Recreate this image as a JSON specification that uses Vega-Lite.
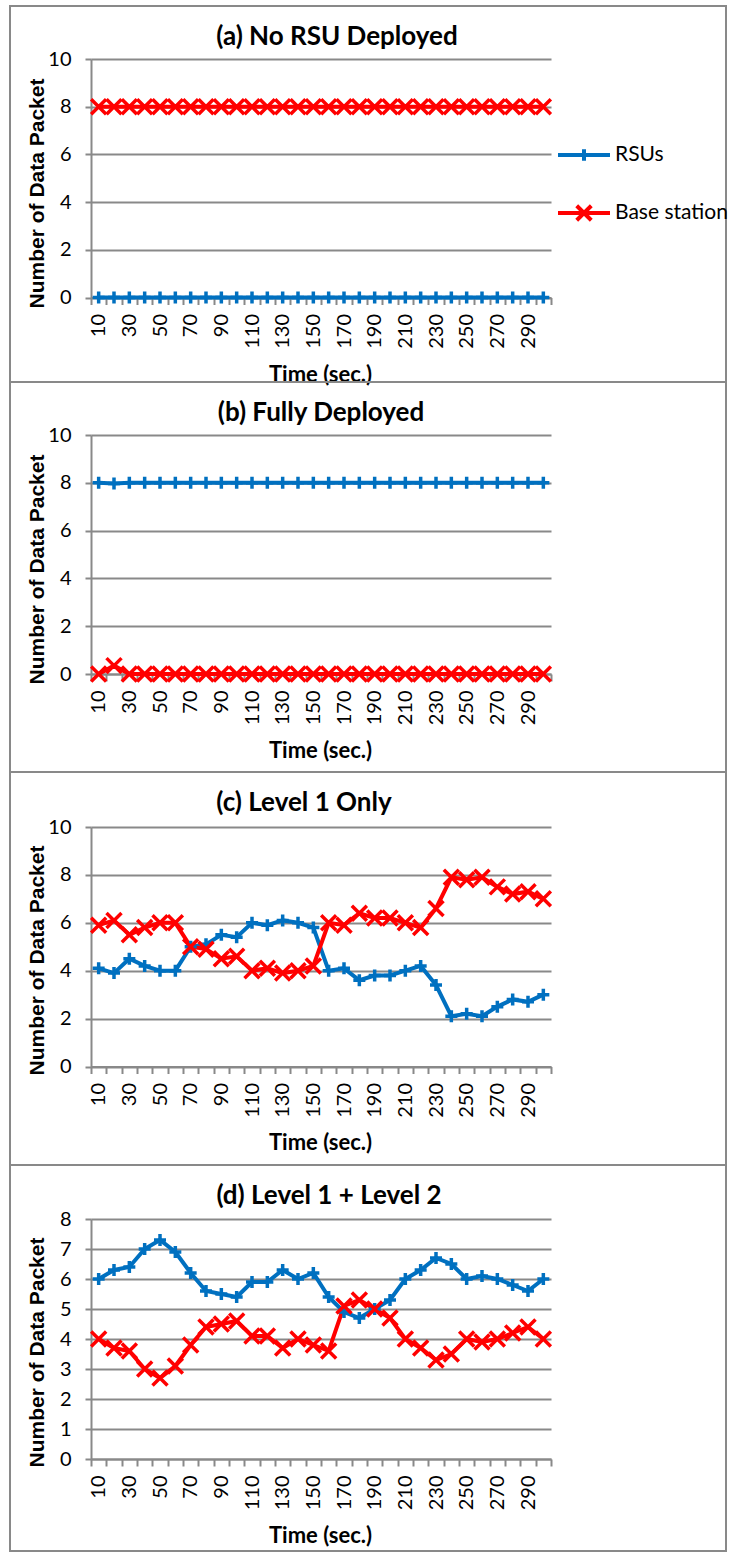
{
  "$schema": "https://vega.github.io/schema/vega-lite/v6.json",
  "padding": {"left": 9, "top": 5, "right": 0, "bottom": 0},
  "background": "white",
  "datasets": {
    "pa": [
      {"time":10,"series":"RSUs","value":0},{"time":20,"series":"RSUs","value":0},{"time":30,"series":"RSUs","value":0},{"time":40,"series":"RSUs","value":0},{"time":50,"series":"RSUs","value":0},{"time":60,"series":"RSUs","value":0},{"time":70,"series":"RSUs","value":0},{"time":80,"series":"RSUs","value":0},{"time":90,"series":"RSUs","value":0},{"time":100,"series":"RSUs","value":0},
      {"time":110,"series":"RSUs","value":0},{"time":120,"series":"RSUs","value":0},{"time":130,"series":"RSUs","value":0},{"time":140,"series":"RSUs","value":0},{"time":150,"series":"RSUs","value":0},{"time":160,"series":"RSUs","value":0},{"time":170,"series":"RSUs","value":0},{"time":180,"series":"RSUs","value":0},{"time":190,"series":"RSUs","value":0},{"time":200,"series":"RSUs","value":0},
      {"time":210,"series":"RSUs","value":0},{"time":220,"series":"RSUs","value":0},{"time":230,"series":"RSUs","value":0},{"time":240,"series":"RSUs","value":0},{"time":250,"series":"RSUs","value":0},{"time":260,"series":"RSUs","value":0},{"time":270,"series":"RSUs","value":0},{"time":280,"series":"RSUs","value":0},{"time":290,"series":"RSUs","value":0},{"time":300,"series":"RSUs","value":0},
      {"time":10,"series":"Base station","value":8},{"time":20,"series":"Base station","value":8},{"time":30,"series":"Base station","value":8},{"time":40,"series":"Base station","value":8},{"time":50,"series":"Base station","value":8},{"time":60,"series":"Base station","value":8},{"time":70,"series":"Base station","value":8},{"time":80,"series":"Base station","value":8},{"time":90,"series":"Base station","value":8},{"time":100,"series":"Base station","value":8},
      {"time":110,"series":"Base station","value":8},{"time":120,"series":"Base station","value":8},{"time":130,"series":"Base station","value":8},{"time":140,"series":"Base station","value":8},{"time":150,"series":"Base station","value":8},{"time":160,"series":"Base station","value":8},{"time":170,"series":"Base station","value":8},{"time":180,"series":"Base station","value":8},{"time":190,"series":"Base station","value":8},{"time":200,"series":"Base station","value":8},
      {"time":210,"series":"Base station","value":8},{"time":220,"series":"Base station","value":8},{"time":230,"series":"Base station","value":8},{"time":240,"series":"Base station","value":8},{"time":250,"series":"Base station","value":8},{"time":260,"series":"Base station","value":8},{"time":270,"series":"Base station","value":8},{"time":280,"series":"Base station","value":8},{"time":290,"series":"Base station","value":8},{"time":300,"series":"Base station","value":8}
    ],
    "pb": [
      {"time":10,"series":"RSUs","value":8},{"time":20,"series":"RSUs","value":7.97},{"time":30,"series":"RSUs","value":8},{"time":40,"series":"RSUs","value":8},{"time":50,"series":"RSUs","value":8},{"time":60,"series":"RSUs","value":8},{"time":70,"series":"RSUs","value":8},{"time":80,"series":"RSUs","value":8},{"time":90,"series":"RSUs","value":8},{"time":100,"series":"RSUs","value":8},
      {"time":110,"series":"RSUs","value":8},{"time":120,"series":"RSUs","value":8},{"time":130,"series":"RSUs","value":8},{"time":140,"series":"RSUs","value":8},{"time":150,"series":"RSUs","value":8},{"time":160,"series":"RSUs","value":8},{"time":170,"series":"RSUs","value":8},{"time":180,"series":"RSUs","value":8},{"time":190,"series":"RSUs","value":8},{"time":200,"series":"RSUs","value":8},
      {"time":210,"series":"RSUs","value":8},{"time":220,"series":"RSUs","value":8},{"time":230,"series":"RSUs","value":8},{"time":240,"series":"RSUs","value":8},{"time":250,"series":"RSUs","value":8},{"time":260,"series":"RSUs","value":8},{"time":270,"series":"RSUs","value":8},{"time":280,"series":"RSUs","value":8},{"time":290,"series":"RSUs","value":8},{"time":300,"series":"RSUs","value":8},
      {"time":10,"series":"Base station","value":0},{"time":20,"series":"Base station","value":0.35},{"time":30,"series":"Base station","value":0},{"time":40,"series":"Base station","value":0},{"time":50,"series":"Base station","value":0},{"time":60,"series":"Base station","value":0},{"time":70,"series":"Base station","value":0},{"time":80,"series":"Base station","value":0},{"time":90,"series":"Base station","value":0},{"time":100,"series":"Base station","value":0},
      {"time":110,"series":"Base station","value":0},{"time":120,"series":"Base station","value":0},{"time":130,"series":"Base station","value":0},{"time":140,"series":"Base station","value":0},{"time":150,"series":"Base station","value":0},{"time":160,"series":"Base station","value":0},{"time":170,"series":"Base station","value":0},{"time":180,"series":"Base station","value":0},{"time":190,"series":"Base station","value":0},{"time":200,"series":"Base station","value":0},
      {"time":210,"series":"Base station","value":0},{"time":220,"series":"Base station","value":0},{"time":230,"series":"Base station","value":0},{"time":240,"series":"Base station","value":0},{"time":250,"series":"Base station","value":0},{"time":260,"series":"Base station","value":0},{"time":270,"series":"Base station","value":0},{"time":280,"series":"Base station","value":0},{"time":290,"series":"Base station","value":0},{"time":300,"series":"Base station","value":0}
    ],
    "pc": [
      {"time":10,"series":"RSUs","value":4.1},{"time":20,"series":"RSUs","value":3.9},{"time":30,"series":"RSUs","value":4.5},{"time":40,"series":"RSUs","value":4.2},{"time":50,"series":"RSUs","value":4.0},{"time":60,"series":"RSUs","value":4.0},{"time":70,"series":"RSUs","value":5.0},{"time":80,"series":"RSUs","value":5.1},{"time":90,"series":"RSUs","value":5.5},{"time":100,"series":"RSUs","value":5.4},
      {"time":110,"series":"RSUs","value":6.0},{"time":120,"series":"RSUs","value":5.9},{"time":130,"series":"RSUs","value":6.1},{"time":140,"series":"RSUs","value":6.0},{"time":150,"series":"RSUs","value":5.8},{"time":160,"series":"RSUs","value":4.0},{"time":170,"series":"RSUs","value":4.1},{"time":180,"series":"RSUs","value":3.6},{"time":190,"series":"RSUs","value":3.8},{"time":200,"series":"RSUs","value":3.8},
      {"time":210,"series":"RSUs","value":4.0},{"time":220,"series":"RSUs","value":4.2},{"time":230,"series":"RSUs","value":3.4},{"time":240,"series":"RSUs","value":2.1},{"time":250,"series":"RSUs","value":2.2},{"time":260,"series":"RSUs","value":2.1},{"time":270,"series":"RSUs","value":2.5},{"time":280,"series":"RSUs","value":2.8},{"time":290,"series":"RSUs","value":2.7},{"time":300,"series":"RSUs","value":3.0},
      {"time":10,"series":"Base station","value":5.9},{"time":20,"series":"Base station","value":6.1},{"time":30,"series":"Base station","value":5.5},{"time":40,"series":"Base station","value":5.8},{"time":50,"series":"Base station","value":6.0},{"time":60,"series":"Base station","value":6.0},{"time":70,"series":"Base station","value":5.0},{"time":80,"series":"Base station","value":4.9},{"time":90,"series":"Base station","value":4.5},{"time":100,"series":"Base station","value":4.6},
      {"time":110,"series":"Base station","value":4.0},{"time":120,"series":"Base station","value":4.1},{"time":130,"series":"Base station","value":3.9},{"time":140,"series":"Base station","value":4.0},{"time":150,"series":"Base station","value":4.2},{"time":160,"series":"Base station","value":6.0},{"time":170,"series":"Base station","value":5.9},{"time":180,"series":"Base station","value":6.4},{"time":190,"series":"Base station","value":6.2},{"time":200,"series":"Base station","value":6.2},
      {"time":210,"series":"Base station","value":6.0},{"time":220,"series":"Base station","value":5.8},{"time":230,"series":"Base station","value":6.6},{"time":240,"series":"Base station","value":7.9},{"time":250,"series":"Base station","value":7.8},{"time":260,"series":"Base station","value":7.9},{"time":270,"series":"Base station","value":7.5},{"time":280,"series":"Base station","value":7.2},{"time":290,"series":"Base station","value":7.3},{"time":300,"series":"Base station","value":7.0}
    ],
    "pd": [
      {"time":10,"series":"RSUs","value":6.0},{"time":20,"series":"RSUs","value":6.3},{"time":30,"series":"RSUs","value":6.4},{"time":40,"series":"RSUs","value":7.0},{"time":50,"series":"RSUs","value":7.3},{"time":60,"series":"RSUs","value":6.9},{"time":70,"series":"RSUs","value":6.2},{"time":80,"series":"RSUs","value":5.6},{"time":90,"series":"RSUs","value":5.5},{"time":100,"series":"RSUs","value":5.4},
      {"time":110,"series":"RSUs","value":5.9},{"time":120,"series":"RSUs","value":5.9},{"time":130,"series":"RSUs","value":6.3},{"time":140,"series":"RSUs","value":6.0},{"time":150,"series":"RSUs","value":6.2},{"time":160,"series":"RSUs","value":5.4},{"time":170,"series":"RSUs","value":4.9},{"time":180,"series":"RSUs","value":4.7},{"time":190,"series":"RSUs","value":5.0},{"time":200,"series":"RSUs","value":5.3},
      {"time":210,"series":"RSUs","value":6.0},{"time":220,"series":"RSUs","value":6.3},{"time":230,"series":"RSUs","value":6.7},{"time":240,"series":"RSUs","value":6.5},{"time":250,"series":"RSUs","value":6.0},{"time":260,"series":"RSUs","value":6.1},{"time":270,"series":"RSUs","value":6.0},{"time":280,"series":"RSUs","value":5.8},{"time":290,"series":"RSUs","value":5.6},{"time":300,"series":"RSUs","value":6.0},
      {"time":10,"series":"Base station","value":4.0},{"time":20,"series":"Base station","value":3.7},{"time":30,"series":"Base station","value":3.6},{"time":40,"series":"Base station","value":3.0},{"time":50,"series":"Base station","value":2.7},{"time":60,"series":"Base station","value":3.1},{"time":70,"series":"Base station","value":3.8},{"time":80,"series":"Base station","value":4.4},{"time":90,"series":"Base station","value":4.5},{"time":100,"series":"Base station","value":4.6},
      {"time":110,"series":"Base station","value":4.1},{"time":120,"series":"Base station","value":4.1},{"time":130,"series":"Base station","value":3.7},{"time":140,"series":"Base station","value":4.0},{"time":150,"series":"Base station","value":3.8},{"time":160,"series":"Base station","value":3.6},{"time":170,"series":"Base station","value":5.1},{"time":180,"series":"Base station","value":5.3},{"time":190,"series":"Base station","value":5.0},{"time":200,"series":"Base station","value":4.7},
      {"time":210,"series":"Base station","value":4.0},{"time":220,"series":"Base station","value":3.7},{"time":230,"series":"Base station","value":3.3},{"time":240,"series":"Base station","value":3.5},{"time":250,"series":"Base station","value":4.0},{"time":260,"series":"Base station","value":3.9},{"time":270,"series":"Base station","value":4.0},{"time":280,"series":"Base station","value":4.2},{"time":290,"series":"Base station","value":4.4},{"time":300,"series":"Base station","value":4.0}
    ]
  },
  "spacing": 0,
  "bounds": "flush",
  "vconcat": [
    {
      "width": 716, "height": 376,
      "data": {"name": "pa"},
      "title": {"text": "(a) No RSU Deployed", "dx": -31},
      "encoding": {
        "y": {"field": "value", "type": "quantitative", "scale": {"domain": [0, 10], "range": [291.5, 53], "nice": false, "zero": false},
              "axis": {"values": [0, 2, 4, 6, 8, 10], "offset": -81, "title": "Number of Data Packet", "titleX": -54, "titleY": 187}},
        "color": {"field": "series", "type": "nominal", "scale": {"domain": ["RSUs", "Base station"], "range": ["#0070C0", "#FF0000"]},
                  "legend": {"encode": {"symbols": {"update": {"shape": {"signal": "datum.value === 'RSUs' ? 'M-1,0L1,0M0,-0.22L0,0.22' : 'M-1,0L1,0M-0.28,-0.28L0.28,0.28M-0.28,0.28L0.28,-0.28'"}}}}}}
      },
      "layer": [
        {"mark": {"type": "line", "strokeWidth": 4},
         "encoding": {"x": {"field": "time", "type": "quantitative", "scale": {"domain": [5, 305], "range": [81, 541], "nice": false, "zero": false},
           "axis": {"orient": "bottom", "values": [5,15,25,35,45,55,65,75,85,95,105,115,125,135,145,155,165,175,185,195,205,215,225,235,245,255,265,275,285,295,305], "labels": false, "title": null, "offset": -84.5, "tickSize": 7, "grid": false}}}},
        {"transform": [{"filter": "datum.series === 'RSUs'"}],
         "mark": {"type": "point", "shape": "M-0.8,0L0.8,0M0,-0.8L0,0.8", "filled": false, "strokeWidth": 3.5, "size": 225, "opacity": 1},
         "encoding": {"x": {"field": "time", "type": "quantitative",
           "axis": {"orient": "bottom", "values": [10,30,50,70,90,110,130,150,170,190,210,230,250,270,290], "offset": -84.5, "domain": false, "ticks": false, "tickSize": 0, "labelAngle": -90, "labelPadding": 16, "title": "Time (sec.)", "titleX": 310, "titleY": 77, "grid": false}}}},
        {"transform": [{"filter": "datum.series === 'Base station'"}],
         "mark": {"type": "point", "shape": "M-1,-1L1,1M-1,1L1,-1", "filled": false, "strokeWidth": 3.5, "size": 225, "opacity": 1},
         "encoding": {"x": {"field": "time", "type": "quantitative", "axis": null}}}
      ],
      "resolve": {"axis": {"x": "independent"}}
    },
    {
      "width": 716, "height": 390,
      "data": {"name": "pb"},
      "title": {"text": "(b) Fully Deployed", "dx": -47},
      "encoding": {
        "y": {"field": "value", "type": "quantitative", "scale": {"domain": [0, 10], "range": [292, 53], "nice": false, "zero": false},
              "axis": {"values": [0, 2, 4, 6, 8, 10], "offset": -81, "title": "Number of Data Packet", "titleX": -54, "titleY": 187}},
        "color": {"field": "series", "type": "nominal", "scale": {"domain": ["RSUs", "Base station"], "range": ["#0070C0", "#FF0000"]},
                  "legend": {"encode": {"symbols": {"update": {"shape": {"signal": "datum.value === 'RSUs' ? 'M-1,0L1,0M0,-0.22L0,0.22' : 'M-1,0L1,0M-0.28,-0.28L0.28,0.28M-0.28,0.28L0.28,-0.28'"}}}}}}
      },
      "layer": [
        {"mark": {"type": "line", "strokeWidth": 4},
         "encoding": {"x": {"field": "time", "type": "quantitative", "scale": {"domain": [5, 305], "range": [81, 541], "nice": false, "zero": false},
           "axis": {"orient": "bottom", "values": [5,15,25,35,45,55,65,75,85,95,105,115,125,135,145,155,165,175,185,195,205,215,225,235,245,255,265,275,285,295,305], "labels": false, "title": null, "offset": -98, "tickSize": 7, "grid": false}}}},
        {"transform": [{"filter": "datum.series === 'RSUs'"}],
         "mark": {"type": "point", "shape": "M-0.8,0L0.8,0M0,-0.8L0,0.8", "filled": false, "strokeWidth": 3.5, "size": 225, "opacity": 1},
         "encoding": {"x": {"field": "time", "type": "quantitative",
           "axis": {"orient": "bottom", "values": [10,30,50,70,90,110,130,150,170,190,210,230,250,270,290], "offset": -98, "domain": false, "ticks": false, "tickSize": 0, "labelAngle": -90, "labelPadding": 16, "title": "Time (sec.)", "titleX": 310, "titleY": 76, "grid": false}}}},
        {"transform": [{"filter": "datum.series === 'Base station'"}],
         "mark": {"type": "point", "shape": "M-1,-1L1,1M-1,1L1,-1", "filled": false, "strokeWidth": 3.5, "size": 225, "opacity": 1},
         "encoding": {"x": {"field": "time", "type": "quantitative", "axis": null}}}
      ],
      "resolve": {"axis": {"x": "independent"}}
    },
    {
      "width": 716, "height": 393,
      "data": {"name": "pc"},
      "title": {"text": "(c) Level 1 Only", "dx": -64},
      "encoding": {
        "y": {"field": "value", "type": "quantitative", "scale": {"domain": [0, 10], "range": [294.5, 55], "nice": false, "zero": false},
              "axis": {"values": [0, 2, 4, 6, 8, 10], "offset": -81, "title": "Number of Data Packet", "titleX": -54, "titleY": 188}},
        "color": {"field": "series", "type": "nominal", "scale": {"domain": ["RSUs", "Base station"], "range": ["#0070C0", "#FF0000"]},
                  "legend": {"encode": {"symbols": {"update": {"shape": {"signal": "datum.value === 'RSUs' ? 'M-1,0L1,0M0,-0.22L0,0.22' : 'M-1,0L1,0M-0.28,-0.28L0.28,0.28M-0.28,0.28L0.28,-0.28'"}}}}}}
      },
      "layer": [
        {"mark": {"type": "line", "strokeWidth": 4},
         "encoding": {"x": {"field": "time", "type": "quantitative", "scale": {"domain": [5, 305], "range": [81, 541], "nice": false, "zero": false},
           "axis": {"orient": "bottom", "values": [5,15,25,35,45,55,65,75,85,95,105,115,125,135,145,155,165,175,185,195,205,215,225,235,245,255,265,275,285,295,305], "labels": false, "title": null, "offset": -98.5, "tickSize": 7, "grid": false}}}},
        {"transform": [{"filter": "datum.series === 'RSUs'"}],
         "mark": {"type": "point", "shape": "M-0.8,0L0.8,0M0,-0.8L0,0.8", "filled": false, "strokeWidth": 3.5, "size": 225, "opacity": 1},
         "encoding": {"x": {"field": "time", "type": "quantitative",
           "axis": {"orient": "bottom", "values": [10,30,50,70,90,110,130,150,170,190,210,230,250,270,290], "offset": -98.5, "domain": false, "ticks": false, "tickSize": 0, "labelAngle": -90, "labelPadding": 16, "title": "Time (sec.)", "titleX": 310, "titleY": 76, "grid": false}}}},
        {"transform": [{"filter": "datum.series === 'Base station'"}],
         "mark": {"type": "point", "shape": "M-1,-1L1,1M-1,1L1,-1", "filled": false, "strokeWidth": 3.5, "size": 225, "opacity": 1},
         "encoding": {"x": {"field": "time", "type": "quantitative", "axis": null}}}
      ],
      "resolve": {"axis": {"x": "independent"}}
    },
    {
      "width": 716, "height": 386,
      "data": {"name": "pd"},
      "title": {"text": "(d) Level 1 + Level 2", "dx": -39},
      "encoding": {
        "y": {"field": "value", "type": "quantitative", "scale": {"domain": [0, 8], "range": [294, 54], "nice": false, "zero": false},
              "axis": {"values": [0, 1, 2, 3, 4, 5, 6, 7, 8], "offset": -81, "title": "Number of Data Packet", "titleX": -54, "titleY": 187}},
        "color": {"field": "series", "type": "nominal", "scale": {"domain": ["RSUs", "Base station"], "range": ["#0070C0", "#FF0000"]},
                  "legend": {"encode": {"symbols": {"update": {"shape": {"signal": "datum.value === 'RSUs' ? 'M-1,0L1,0M0,-0.22L0,0.22' : 'M-1,0L1,0M-0.28,-0.28L0.28,0.28M-0.28,0.28L0.28,-0.28'"}}}}}}
      },
      "layer": [
        {"mark": {"type": "line", "strokeWidth": 4},
         "encoding": {"x": {"field": "time", "type": "quantitative", "scale": {"domain": [5, 305], "range": [81, 541], "nice": false, "zero": false},
           "axis": {"orient": "bottom", "values": [5,15,25,35,45,55,65,75,85,95,105,115,125,135,145,155,165,175,185,195,205,215,225,235,245,255,265,275,285,295,305], "labels": false, "title": null, "offset": -92, "tickSize": 7, "grid": false}}}},
        {"transform": [{"filter": "datum.series === 'RSUs'"}],
         "mark": {"type": "point", "shape": "M-0.8,0L0.8,0M0,-0.8L0,0.8", "filled": false, "strokeWidth": 3.5, "size": 225, "opacity": 1},
         "encoding": {"x": {"field": "time", "type": "quantitative",
           "axis": {"orient": "bottom", "values": [10,30,50,70,90,110,130,150,170,190,210,230,250,270,290], "offset": -92, "domain": false, "ticks": false, "tickSize": 0, "labelAngle": -90, "labelPadding": 16, "title": "Time (sec.)", "titleX": 310, "titleY": 76, "grid": false}}}},
        {"transform": [{"filter": "datum.series === 'Base station'"}],
         "mark": {"type": "point", "shape": "M-1,-1L1,1M-1,1L1,-1", "filled": false, "strokeWidth": 3.5, "size": 225, "opacity": 1},
         "encoding": {"x": {"field": "time", "type": "quantitative", "axis": null}}}
      ],
      "resolve": {"axis": {"x": "independent"}}
    }
  ],
  "config": {
    "view": {"stroke": "#898989", "strokeWidth": 2},
    "axis": {"domainColor": "#898989", "domainWidth": 2, "tickColor": "#898989", "tickWidth": 2, "gridColor": "#898989", "gridWidth": 2,
             "labelFont": "Lato", "labelFontSize": 20, "labelColor": "#000000", "titleColor": "#000000", "titleFont": "Lato", "titleFontWeight": "bold"},
    "axisY": {"titleFont": "Liberation Sans", "titleFontSize": 21, "tickSize": 6, "labelPadding": 14, "titleAngle": -90, "titleBaseline": "middle", "titleAlign": "center", "grid": true},
    "axisX": {"titleFontSize": 22, "titleBaseline": "middle", "titleAlign": "center", "labelOverlap": false, "labelFlush": false, "grid": false},
    "title": {"font": "Lato", "fontSize": 26, "fontWeight": "bold", "color": "#000000", "anchor": "middle", "frame": "group", "offset": -44, "baseline": "middle"},
    "legend": {"title": null, "orient": "none", "legendX": 546, "legendY": 121, "padding": 0, "symbolSize": 2704, "symbolStrokeWidth": 4,
               "labelFont": "Lato", "labelFontSize": 21, "labelColor": "#000000", "labelOffset": 3, "rowPadding": 16, "labelLimit": 300}
  }
}
